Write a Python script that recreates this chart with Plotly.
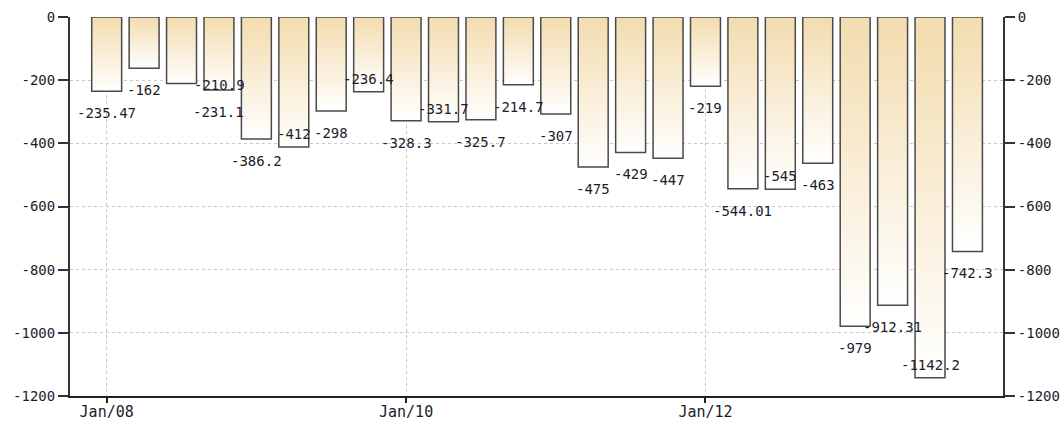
import plotly.graph_objects as go

quarters = ["Jan/08", "Apr/08", "Jul/08", "Oct/08",
            "Jan/09", "Apr/09", "Jul/09", "Oct/09",
            "Jan/10", "Apr/10", "Jul/10", "Oct/10",
            "Jan/11", "Apr/11", "Jul/11", "Oct/11",
            "Jan/12", "Apr/12", "Jul/12", "Oct/12",
            "Jan/13", "Apr/13", "Jul/13", "Oct/13"]
balance = [-235.47, -162, -210.9, -231.1,
           -386.2, -412, -298, -236.4,
           -328.3, -331.7, -325.7, -214.7,
           -307, -475, -429, -447,
           -219, -544.01, -545, -463,
           -979, -912.31, -1142.2, -742.3]
tick_labels = ["Jan/08", "Jan/10", "Jan/12"]
y_ticks = [0, -200, -400, -600, -800, -1000, -1200]
# label placement relative to bar end: below / above / shifted
label_place = ["below", "below", "shifted", "below",
               "below", "above", "below", "above",
               "below", "above", "below", "below",
               "below", "below", "below", "below",
               "below", "below", "above", "below",
               "below", "below", "above", "below"]

TOP_COLOR = "#f3dcae"
EDGE = "#4a4a4a"
TEXT = "#1c1c2c"
MONO = "DejaVu Sans Mono"
HALF = 0.40

fig = go.Figure()
for i, v in enumerate(balance):
    fig.add_trace(go.Scatter(
        x=[i - HALF, i - HALF, i + HALF, i + HALF, i - HALF],
        y=[0, v, v, 0, 0],
        mode="lines",
        fill="toself",
        fillgradient=dict(type="vertical",
                          colorscale=[[0, "#ffffff"], [1, TOP_COLOR]]),
        line=dict(color=EDGE, width=1.5),
        hoverinfo="skip",
        showlegend=False,
    ))

# invisible twin for the right axis
fig.add_trace(go.Scatter(x=list(range(len(balance))), y=balance, yaxis="y2",
                         mode="markers", marker=dict(opacity=0),
                         hoverinfo="skip", showlegend=False))

for i, (v, p) in enumerate(zip(balance, label_place)):
    if p == "below":
        xs, ys = 0, -22
    elif p == "above":
        xs, ys = 0, 13
    else:
        xs, ys = 38, -1
    fig.add_annotation(x=i, y=v, text=f"{v:g}", showarrow=False,
                       xanchor="center", yanchor="middle",
                       xshift=xs, yshift=ys,
                       font=dict(family=MONO, size=14, color=TEXT))

axis_common = dict(
    range=[-1200, 0], tickvals=y_ticks, ticktext=[str(t) for t in y_ticks],
    showline=True, linecolor="#333333", linewidth=2,
    ticks="outside", ticklen=10, tickwidth=2, tickcolor="#333333",
    tickfont=dict(family=MONO, size=14, color=TEXT),
    zeroline=False, fixedrange=True, automargin=False,
)

fig.update_layout(
    width=1062, height=423, autosize=False,
    margin=dict(l=70, r=59, t=17, b=27),
    paper_bgcolor="white", plot_bgcolor="white",
    showlegend=False,
    xaxis=dict(
        range=[-0.98, 23.95],
        tickvals=[quarters.index(t) for t in tick_labels],
        ticktext=tick_labels,
        showline=True, linecolor="#222222", linewidth=2,
        ticks="outside", ticklen=5, tickwidth=2, tickcolor="#222222",
        tickfont=dict(family=MONO, size=15, color=TEXT),
        ticklabelstandoff=-4,
        showgrid=True, gridcolor="#c8c8c8", griddash="dot", gridwidth=1,
        zeroline=False, fixedrange=True, automargin=False,
    ),
    yaxis=dict(**axis_common, side="left",
               showgrid=True, gridcolor="#c8c8c8", griddash="dot", gridwidth=1),
    yaxis2=dict(**axis_common, side="right", overlaying="y", showgrid=False),
)

post = ("document.body.style.margin='0';"
        "document.body.style.overflow='hidden';")

fig.write_html("out.html", config={"responsive": False, "displayModeBar": False},
               post_script=post)
